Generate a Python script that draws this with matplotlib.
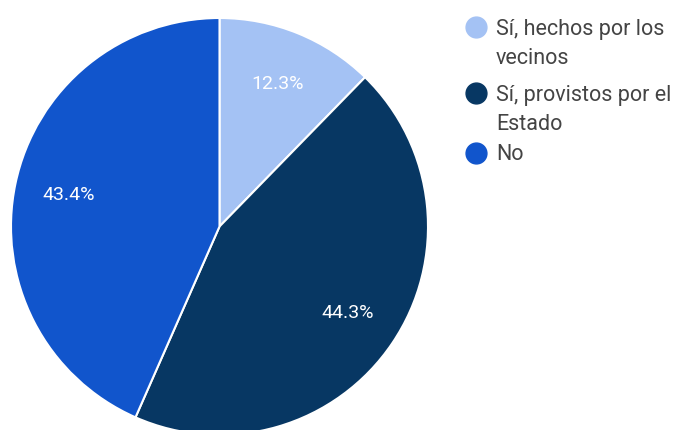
import matplotlib.pyplot as plt

plt.rcParams["font.family"] = ["Roboto", "DejaVu Sans"]

labels = ["Sí, hechos por los\nvecinos", "Sí, provistos por el\nEstado", "No"]
shares = [12.3, 44.3, 43.4]
colors = ["#a4c2f4", "#073763", "#1155cc"]

W, H = 684, 430
fig = plt.figure(figsize=(W / 100, H / 100), dpi=100)
ax = fig.add_axes([0, 0, 1, 1])

cx, cy, r = 219.5, H - 226.5, 208.5

wedges, texts, autotexts = ax.pie(
    shares,
    colors=colors,
    startangle=90,
    counterclock=False,
    center=(cx, cy),
    radius=r,
    autopct="%.1f%%",
    pctdistance=0.74,
    wedgeprops={"edgecolor": "white", "linewidth": 1.5},
    textprops={"color": "white", "fontsize": 14},
    frame=True,
)
ax.set_xlim(0, W)
ax.set_ylim(0, H)
ax.set_aspect("equal")
ax.axis("off")

# legend drawn by hand so spacing follows the reference
legend_y = [27, 93, 153]
for lab, col, y in zip(labels, colors, legend_y):
    ax.plot(476, H - y, "o", color=col, markersize=15, clip_on=False)
    for i, line in enumerate(lab.split("\n")):
        ax.text(496, H - (y + 7.5 + 30 * i), line, fontsize=15.5,
                color="#444444", va="baseline", ha="left")

fig.savefig("out.png", dpi=100)
